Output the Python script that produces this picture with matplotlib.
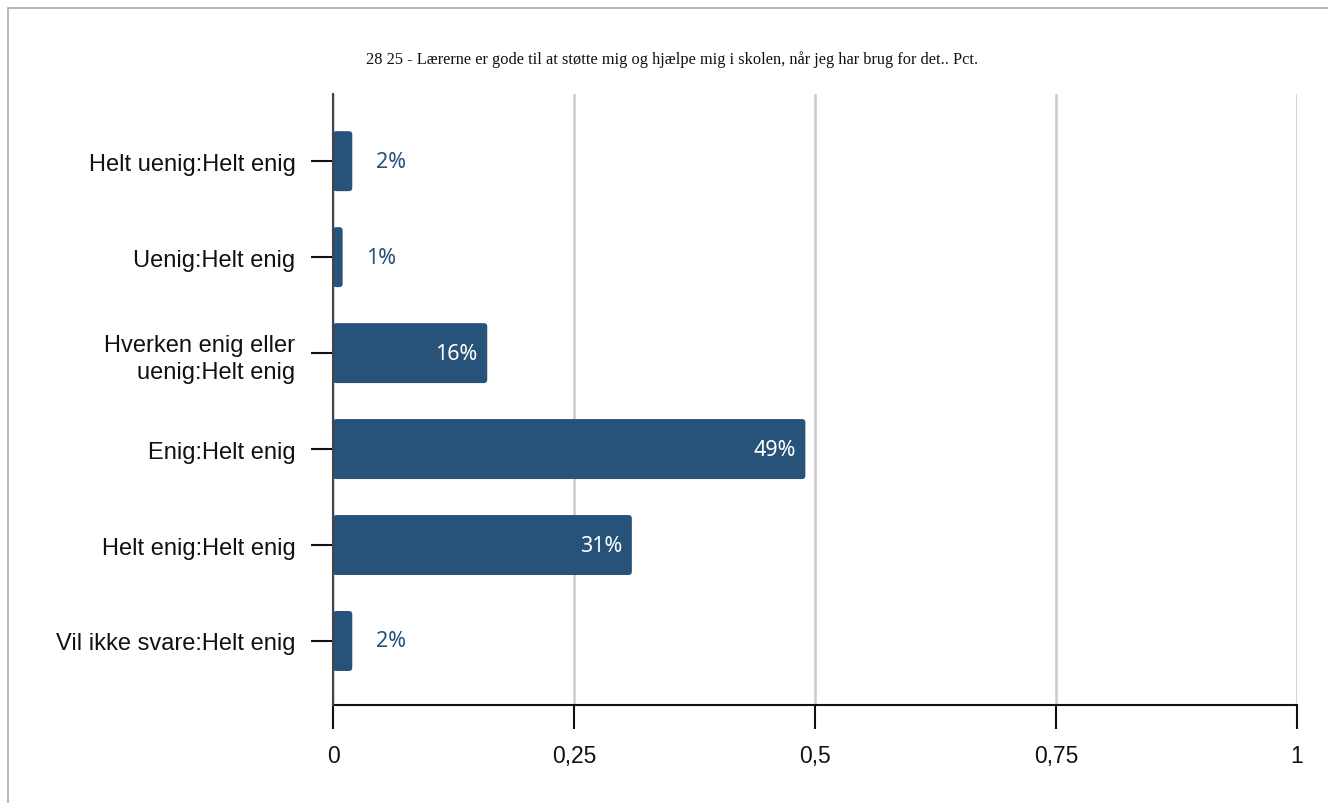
import matplotlib
matplotlib.use("Agg")
import matplotlib.pyplot as plt
from matplotlib.patches import Rectangle, FancyBboxPatch
from matplotlib.ticker import FuncFormatter

categories = ["Helt uenig:Helt enig", "Uenig:Helt enig", "Hverken enig eller\nuenig:Helt enig",
              "Enig:Helt enig", "Helt enig:Helt enig", "Vil ikke svare:Helt enig"]
values = [0.02, 0.01, 0.16, 0.49, 0.31, 0.02]
labels = ["2%", "1%", "16%", "49%", "31%", "2%"]
xticks = [0, 0.25, 0.5, 0.75, 1]
title = "28 25 - Lærerne er gode til at støtte mig og hjælpe mig i skolen, når jeg har brug for det.. Pct."

bar_color = "#27527a"
plt.rcParams['font.family'] = ['Liberation Sans', 'DejaVu Sans']

fig = plt.figure(figsize=(13.28, 8.04), dpi=100)
ax = fig.add_axes([333/1328, 1-706/804, (1297-333)/1328, (706-95)/804])

# outer border (top and left visible)
fig.patches.append(Rectangle((8/1328, -0.1), 1.2, 1.1-9/804, transform=fig.transFigure,
                             fill=False, edgecolor="#aaaaaa", linewidth=1.2, clip_on=False))

y = list(range(len(categories)))
bars = ax.barh(y, values, height=0.625, color=bar_color, zorder=3)
# rounded corners
px_x = 1.0 / 964
px_y = 1.0 / 96
for b in bars:
    b.set_visible(False)
    fb = FancyBboxPatch((b.get_x(), b.get_y()), b.get_width(), b.get_height(),
                        boxstyle="round,pad=0,rounding_size=%f" % (3.5 * px_x),
                        mutation_aspect=px_y / px_x, facecolor=bar_color, edgecolor="none", zorder=3)
    ax.add_patch(fb)

ax.set_xlim(0, 1)
ax.set_ylim(5.667, -0.70)
ax.set_yticks(y)
ax.set_yticklabels(categories, fontsize=17, color="#111111", linespacing=1.3)
ax.set_xticks(xticks)
ax.xaxis.set_major_formatter(FuncFormatter(lambda v, p: ("%g" % v).replace(".", ",")))
ax.tick_params(axis='x', length=17, width=1.5, pad=11, labelsize=16.5, colors="#111111")
ax.tick_params(axis='y', length=16, width=1.5, pad=11, colors="#111111")
ax.grid(axis='x', color="#cccccc", linewidth=1.8, zorder=0)
for s in ["top", "right"]:
    ax.spines[s].set_visible(False)
ax.spines["left"].set_color("#444444")
ax.spines["left"].set_linewidth(1.5)
ax.spines["left"].set_zorder(4)
ax.spines["bottom"].set_color("#111111")
ax.spines["bottom"].set_linewidth(1.5)

for yi, v, lab in zip(y, values, labels):
    if v >= 0.1:
        ax.annotate(lab, (v, yi), xytext=(-7, 0), textcoords="offset points", ha="right", va="center",
                    color="white", fontsize=15.5, family=["Noto Sans", "DejaVu Sans"], zorder=5)
    else:
        ax.annotate(lab, (v, yi), xytext=(17, 0), textcoords="offset points", ha="left", va="center",
                    color=bar_color, fontsize=15.5, family=["Noto Sans", "DejaVu Sans"], zorder=5)

fig.text(672/1328, 1-60/804, title, ha="center", va="center", fontsize=11.8,
         family=["Liberation Serif", "DejaVu Serif"], color="#111111")

fig.savefig("out.png", dpi=100)
